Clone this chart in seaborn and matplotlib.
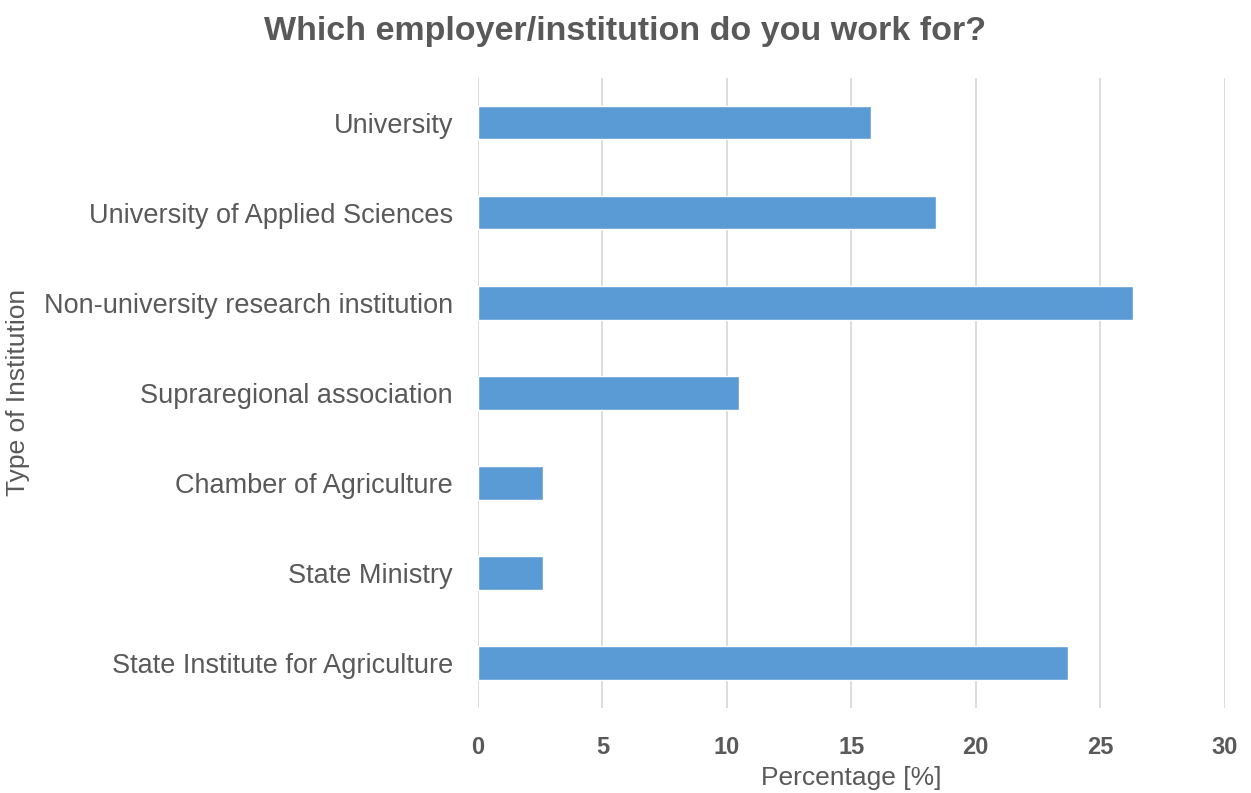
import matplotlib
matplotlib.use("Agg")
import matplotlib.pyplot as plt
import pandas as pd
import seaborn as sns

# survey answers, percent of respondents
institutions = [
    "University",
    "University of Applied Sciences",
    "Non-university research institution",
    "Supraregional association",
    "Chamber of Agriculture",
    "State Ministry",
    "State Institute for Agriculture",
]
percentages = [15.8, 18.4, 26.3, 10.5, 2.6, 2.6, 23.7]
xticks = [0, 5, 10, 15, 20, 25, 30]

df = pd.DataFrame({"institution": institutions, "pct": percentages})

sns.set_theme(style="white")
plt.rcParams["font.family"] = ["Liberation Sans", "DejaVu Sans"]
text_col = "#595959"

fig = plt.figure(figsize=(12.51, 7.93), dpi=100)
ax = fig.add_axes([0.382, 0.107, 0.597, 0.795])

sns.barplot(data=df, x="pct", y="institution", color="#5B9BD5",
            saturation=1, width=0.37, ax=ax, orient="h")

ax.set_xlim(0, 30)
ax.set_ylim(6.5, -0.5)
ax.set_xticks(xticks)
ax.set_xticklabels([str(t) for t in xticks], fontsize=17, fontweight="bold",
                   color=text_col)
ax.tick_params(axis="y", labelsize=19.5, labelcolor=text_col, length=0, pad=18)
ax.tick_params(axis="x", length=0, pad=20)

ax.grid(axis="x", color="#D9D9D9", linewidth=1.3)
ax.set_axisbelow(True)
for s in ["top", "right", "bottom", "left"]:
    ax.spines[s].set_visible(False)

ax.set_xlabel("Percentage [%]", fontsize=19, color=text_col, labelpad=5)
ax.set_ylabel("Type of Institution", fontsize=19, color=text_col)
ax.yaxis.set_label_coords(-0.6, 0.5)

fig.suptitle("Which employer/institution do you work for?", fontsize=24.5,
             fontweight="bold", color=text_col, y=0.98)

fig.savefig("out.png", dpi=100)
